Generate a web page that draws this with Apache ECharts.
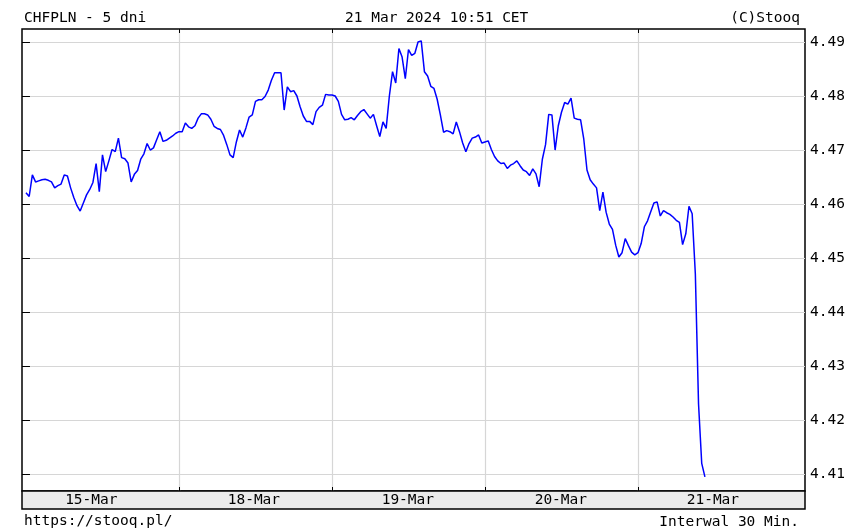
<!DOCTYPE html>
<html>
<head>
<meta charset="utf-8">
<script src="https://cdn.jsdelivr.net/npm/echarts@6/dist/echarts.min.js"></script>
<style>
html,body{margin:0;padding:0;background:#fff;}
#c{width:867px;height:531px;}
</style>
</head>
<body>
<div id="c"></div>
<script>
const titleLeft = 'CHFPLN - 5 dni';
const titleCenter = '21 Mar 2024 10:51 CET';
const titleRight = '(C)Stooq';
const footLeft = 'https://stooq.pl/';
const footRight = 'Interwal 30 Min.';

const yTicks = [4.41, 4.42, 4.43, 4.44, 4.45, 4.46, 4.47, 4.48, 4.49];
const dayLabels = ['15-Mar', '18-Mar', '19-Mar', '20-Mar', '21-Mar'];
const dayLabelPos = [20.5, 71.5, 119.8, 167.8, 215.5];
const dayBounds = [48, 96, 144, 192];

// 30-minute closes, index = half-hour slot
const prices = [
4.4621,4.4614,4.4654,4.4641,4.4643,4.4645,4.4646,4.4644,4.4641,4.4630,
4.4634,4.4637,4.4654,4.4652,4.4630,4.4612,4.4597,4.4587,4.4602,4.4617,
4.4627,4.4640,4.4675,4.4623,4.4691,4.4660,4.4680,4.4701,4.4697,4.4722,
4.4686,4.4684,4.4676,4.4641,4.4655,4.4662,4.4683,4.4693,4.4712,4.4700,
4.4704,4.4719,4.4734,4.4716,4.4718,4.4722,4.4726,4.4731,4.4734,4.4734,
4.4750,4.4743,4.4740,4.4745,4.4759,4.4767,4.4767,4.4765,4.4757,4.4744,
4.4740,4.4738,4.4727,4.4710,4.4691,4.4686,4.4715,4.4737,4.4724,4.4741,
4.4761,4.4765,4.4790,4.4793,4.4793,4.4799,4.4811,4.4829,4.4843,4.4843,
4.4843,4.4774,4.4817,4.4808,4.4810,4.4800,4.4780,4.4763,4.4753,4.4753,
4.4747,4.4771,4.4779,4.4783,4.4803,4.4802,4.4802,4.4800,4.4790,4.4766,
4.4756,4.4757,4.4760,4.4756,4.4764,4.4771,4.4775,4.4767,4.4759,4.4766,
4.4745,4.4725,4.4752,4.4740,4.4800,4.4845,4.4824,4.4888,4.4872,4.4832,
4.4886,4.4875,4.4879,4.4900,4.4902,4.4845,4.4837,4.4818,4.4814,4.4794,
4.4765,4.4733,4.4736,4.4734,4.4730,4.4752,4.4734,4.4713,4.4697,4.4712,
4.4722,4.4724,4.4728,4.4713,4.4715,4.4717,4.4701,4.4688,4.4680,4.4675,
4.4676,4.4666,4.4672,4.4675,4.4680,4.4671,4.4663,4.4660,4.4653,4.4665,
4.4656,4.4632,4.4683,4.4710,4.4766,4.4765,4.4700,4.4745,4.4770,4.4788,
4.4785,4.4796,4.4759,4.4757,4.4756,4.4720,4.4663,4.4645,4.4637,4.4630,
4.4588,4.4622,4.4585,4.4563,4.4553,4.4524,4.4502,4.4510,4.4536,4.4523,
4.4511,4.4506,4.4510,4.4527,4.4558,4.4569,4.4586,4.4602,4.4604,4.4578,
4.4588,4.4584,4.4581,4.4576,4.4570,4.4566,4.4525,4.4545,4.4596,4.4582,
4.4470,4.4230,4.4120,4.4095
];

const FONT = 'DejaVu Sans Mono';
const FS = 14.5;
const txt = {color: '#000', fontFamily: FONT, fontSize: FS, fontWeight: 'normal'};

const chart = echarts.init(document.getElementById('c'), null, {renderer: 'canvas'});
chart.setOption({
  animation: false,
  backgroundColor: '#fff',
  title: [
    {text: titleLeft, left: 19, top: 6, textStyle: txt},
    {text: titleCenter, left: 340, top: 6, textStyle: txt},
    {text: titleRight, right: 62, top: 6, textStyle: txt},
    {text: footLeft, left: 19, top: 509, textStyle: txt},
    {text: footRight, right: 63, top: 510, textStyle: txt}
  ],
  grid: [
    {left: 22, right: 62, top: 29, height: 462, show: true, borderColor: '#000', borderWidth: 1.5, backgroundColor: '#fff'},
    {left: 22, right: 62, top: 491, height: 18, show: true, borderColor: '#000', borderWidth: 1.5, backgroundColor: '#ebebeb'}
  ],
  xAxis: [
    {
      type: 'value', gridIndex: 0, position: 'bottom', min: -1.25, max: 244.4,
      axisLine: {show: false},
      axisTick: {show: true, inside: true, length: 4, customValues: dayBounds, lineStyle: {color: '#000', width: 1}},
      splitLine: {show: true, lineStyle: {color: '#d6d6d6', width: 1.2}},
      axisLabel: {
        show: true, customValues: dayLabelPos, margin: 2, color: '#000', fontFamily: FONT, fontSize: FS,
        formatter: function (v) { const k = dayLabelPos.indexOf(v); return k >= 0 ? dayLabels[k] : ''; }
      }
    },
    {
      type: 'value', gridIndex: 0, position: 'top', min: -1.25, max: 244.4,
      axisLine: {show: false},
      axisTick: {show: true, inside: true, length: 4, customValues: dayBounds, lineStyle: {color: '#000', width: 1}},
      splitLine: {show: false}, axisLabel: {show: false}
    },
    {type: 'value', gridIndex: 1, min: 0, max: 1, show: false}
  ],
  yAxis: [
    {
      type: 'value', gridIndex: 0, position: 'right', min: 4.4069, max: 4.4924,
      axisLine: {show: false},
      axisTick: {show: true, inside: true, length: 4, customValues: yTicks, lineStyle: {color: '#000', width: 1}},
      splitLine: {show: true, lineStyle: {color: '#d6d6d6', width: 1.2}},
      axisLabel: {
        show: true, customValues: yTicks, margin: 5, color: '#000', fontFamily: FONT, fontSize: FS,
        formatter: function (v) { return v.toFixed(2); }
      }
    },
    {
      type: 'value', gridIndex: 0, position: 'left', min: 4.4069, max: 4.4924,
      axisLine: {show: false},
      axisTick: {show: true, inside: true, length: 4, customValues: yTicks, lineStyle: {color: '#000', width: 1}},
      splitLine: {show: false}, axisLabel: {show: false}
    },
    {type: 'value', gridIndex: 1, min: 0, max: 1, show: false}
  ],
  series: [{
    type: 'line',
    xAxisIndex: 0, yAxisIndex: 0,
    data: prices.map(function (v, i) { return [i, v]; }),
    showSymbol: false, symbol: 'none',
    lineStyle: {color: '#0000ff', width: 1.5},
    silent: true
  }]
});
</script>
</body>
</html>
